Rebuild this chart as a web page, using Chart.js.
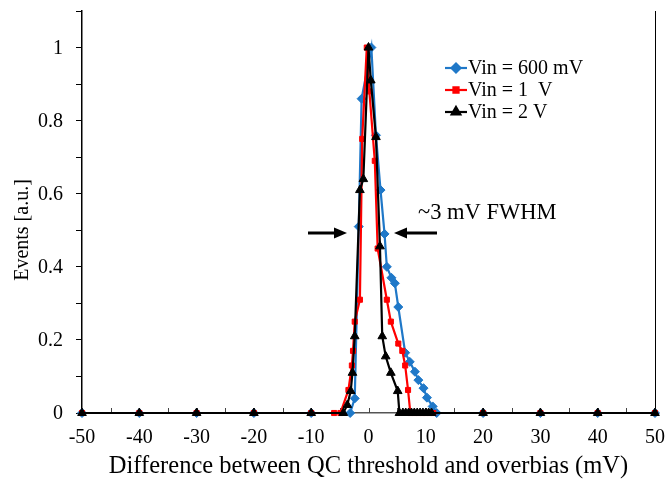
<!DOCTYPE html>
<html>
<head>
<meta charset="utf-8">
<script src="https://cdn.jsdelivr.net/npm/chart.js@4.4.1/dist/chart.umd.min.js"></script>
<style>
  html, body { margin: 0; padding: 0; background: #fff; }
  #wrap { width: 668px; height: 484px; }
</style>
</head>
<body>
<div id="wrap"><canvas id="c" width="668" height="484"></canvas></div>
<script>
// Vin = 600 mV
const x600 = [-50, -40, -30, -20, -10, -3.2, -2.4, -1.7, -1.2, 0.5, 1.3, 2.1, 2.8, 3.2, 4.0, 4.6, 5.2, 6.4, 7.2, 8.1, 8.7, 9.6, 10.2, 11.2, 11.9, 20, 30, 40, 50];
const y600 = [0, 0, 0, 0, 0, 0, 0.04, 0.51, 0.86, 1.0, 0.76, 0.61, 0.49, 0.40, 0.37, 0.355, 0.29, 0.165, 0.14, 0.113, 0.09, 0.068, 0.042, 0.018, 0, 0, 0, 0, 0];

// Vin = 1 V
const x1V = [-50, -40, -30, -20, -10, -6.0, -4.9, -3.5, -2.9, -2.7, -2.4, -1.5, -1.1, -0.3, 0.15, 1.1, 1.6, 3.2, 3.9, 5.2, 5.9, 6.4, 6.9, 7.3, 8.0, 8.7, 9.4, 10.0, 10.7, 11.3, 20, 30, 40, 50];
const y1V = [0, 0, 0, 0, 0, 0, 0, 0.063, 0.13, 0.17, 0.25, 0.31, 0.75, 1.0, 0.88, 0.69, 0.45, 0.31, 0.25, 0.19, 0.17, 0.13, 0.063, 0, 0, 0, 0, 0, 0, 0, 0, 0, 0, 0];

// Vin = 2 V
const x2V = [-50, -40, -30, -20, -10, -4.4, -3.7, -3.1, -2.8, -2.4, -1.5, -0.9, 0.0, 0.4, 1.3, 2.0, 2.4, 3.0, 3.9, 5.1, 5.4, 6.0, 6.5, 7.0, 7.5, 8.0, 8.5, 9.0, 9.5, 10.0, 10.5, 11.0, 20, 30, 40, 50];
const y2V = [0, 0, 0, 0, 0, 0, 0.022, 0.06, 0.11, 0.21, 0.61, 0.64, 1.0, 0.91, 0.755, 0.456, 0.21, 0.155, 0.11, 0.06, 0, 0, 0, 0, 0, 0, 0, 0, 0, 0, 0, 0, 0, 0, 0, 0];

const seriesNames = ['Vin = 600 mV', 'Vin = 1  V', 'Vin = 2 V'];
const xTickLabels = ['-50', '-40', '-30', '-20', '-10', '0', '10', '20', '30', '40', '50'];
const yTickLabels = ['0', '0.2', '0.4', '0.6', '0.8', '1'];

const SERIF = "'Liberation Serif', 'Times New Roman', serif";

function toPoints(xs, ys) { return xs.map((x, i) => ({ x: x, y: ys[i] })); }

const styles = [
  { color: '#1f78c8', pointStyle: 'rectRot', radius: 4.5 },
  { color: '#ff0000', pointStyle: 'rect', radius: 3.6 },
  { color: '#000000', pointStyle: 'triangle', radius: 5 }
];
const seriesData = [toPoints(x600, y600), toPoints(x1V, y1V), toPoints(x2V, y2V)];

// later series are painted over earlier ones; markers on the axis are not clipped
const datasets = seriesData.map((d, i) => ({
  label: seriesNames[i],
  data: d,
  order: seriesData.length - 1 - i,
  clip: false,
  showLine: true,
  borderColor: styles[i].color,
  backgroundColor: styles[i].color,
  pointBackgroundColor: styles[i].color,
  pointBorderColor: styles[i].color,
  pointStyle: styles[i].pointStyle,
  pointRadius: styles[i].radius,
  pointBorderWidth: 1,
  borderWidth: 2.2,
  tension: 0
}));

// frame, tick labels, minor ticks, legend, axis titles and FWHM note
const decor = {
  id: 'decor',
  beforeDatasetsDraw(chart) {
    const ctx = chart.ctx, a = chart.chartArea, xs = chart.scales.x, ys = chart.scales.y;
    ctx.save();
    // right edge line
    ctx.strokeStyle = '#000';
    ctx.lineWidth = 1;
    ctx.beginPath();
    ctx.moveTo(a.right + 0.5, a.top);
    ctx.lineTo(a.right + 0.5, a.bottom);
    ctx.stroke();
    // inward x tick marks every 5
    ctx.strokeStyle = '#444';
    for (let v = -50; v <= 50; v += 5) {
      const px = Math.round(xs.getPixelForValue(v)) + 0.5;
      ctx.beginPath();
      ctx.moveTo(px, a.bottom);
      ctx.lineTo(px, a.bottom - 5);
      ctx.stroke();
    }
    // tick labels
    ctx.fillStyle = '#000';
    ctx.font = '20px ' + SERIF;
    ctx.textAlign = 'center';
    ctx.textBaseline = 'middle';
    xTickLabels.forEach(t => {
      ctx.fillText(t, xs.getPixelForValue(parseFloat(t)), 438);
    });
    ctx.textAlign = 'right';
    yTickLabels.forEach(t => {
      ctx.fillText(t, 63, ys.getPixelForValue(parseFloat(t)) + 1);
    });
    ctx.restore();
  },
  afterDraw(chart) {
    const ctx = chart.ctx;
    ctx.save();
    // legend
    const lx = 445, ly = [68, 90, 112];
    styles.forEach((s, i) => {
      ctx.strokeStyle = s.color;
      ctx.fillStyle = s.color;
      ctx.lineWidth = 2.2;
      ctx.beginPath();
      ctx.moveTo(lx, ly[i]);
      ctx.lineTo(lx + 22, ly[i]);
      ctx.stroke();
      Chart.helpers.drawPoint(ctx, { pointStyle: s.pointStyle, radius: s.radius, rotation: 0, borderWidth: 1 }, lx + 11, ly[i]);
      ctx.fillStyle = '#000';
      ctx.font = '20px ' + SERIF;
      ctx.textBaseline = 'middle';
      ctx.textAlign = 'left';
      ctx.fillText(seriesNames[i], lx + 23, ly[i] + 1);
    });
    // axis titles
    ctx.fillStyle = '#000';
    ctx.font = '24.5px ' + SERIF;
    ctx.textAlign = 'center';
    ctx.textBaseline = 'middle';
    ctx.fillText('Difference between QC threshold and overbias (mV)', 368.5, 467);
    ctx.save();
    ctx.translate(23, 230);
    ctx.rotate(-Math.PI / 2);
    ctx.font = '20px ' + SERIF;
    ctx.fillText('Events [a.u.]', 0, 0);
    ctx.restore();
    // FWHM note and arrows
    ctx.font = '22.5px ' + SERIF;
    ctx.textAlign = 'left';
    ctx.fillText('~3 mV FWHM', 418, 213);
    const ay = 233;
    function arrow(x0, x1) {
      const dir = Math.sign(x1 - x0);
      ctx.strokeStyle = '#000';
      ctx.fillStyle = '#000';
      ctx.lineWidth = 3;
      ctx.beginPath();
      ctx.moveTo(x0, ay);
      ctx.lineTo(x1 - dir * 10, ay);
      ctx.stroke();
      ctx.beginPath();
      ctx.moveTo(x1, ay);
      ctx.lineTo(x1 - dir * 13, ay - 5.5);
      ctx.lineTo(x1 - dir * 13, ay + 5.5);
      ctx.closePath();
      ctx.fill();
    }
    arrow(308, 347);
    arrow(437, 394);
    ctx.restore();
  }
};

new Chart(document.getElementById('c'), {
  type: 'scatter',
  data: { datasets: datasets },
  options: {
    responsive: false,
    animation: false,
    devicePixelRatio: 1,
    layout: { padding: { left: 0, right: 13, top: 11, bottom: 0 } },
    plugins: { legend: { display: false }, tooltip: { enabled: false } },
    scales: {
      x: {
        type: 'linear',
        min: -50, max: 50,
        afterFit: s => { s.height = 71; },
        ticks: { display: false, stepSize: 10 },
        grid: { display: true, drawOnChartArea: false, drawTicks: false },
        border: { display: true, color: '#555', width: 1.5 }
      },
      y: {
        type: 'linear',
        min: 0, max: 1.1,
        afterFit: s => { s.width = 82; },
        ticks: { display: false, stepSize: 0.1 },
        grid: { display: true, drawOnChartArea: false, drawTicks: true, tickLength: 6, color: '#000' },
        border: { display: true, color: '#000', width: 1.5 }
      }
    }
  },
  plugins: [decor]
});
</script>
</body>
</html>
